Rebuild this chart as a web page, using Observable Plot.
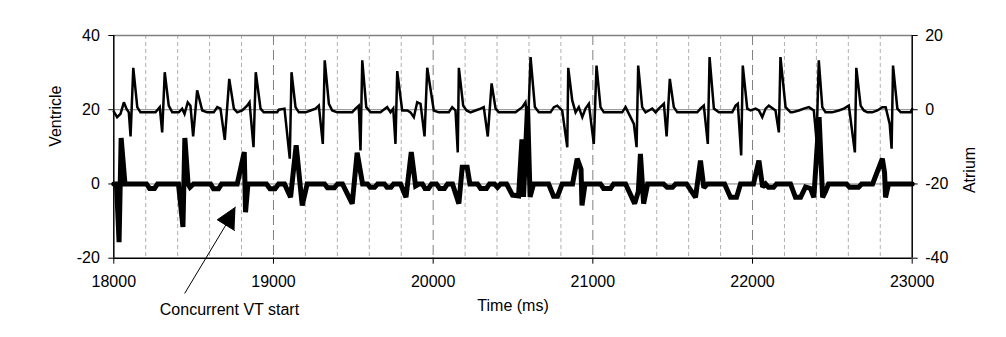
<!DOCTYPE html>
<html>
<head>
<meta charset="utf-8">
<script src="https://cdn.jsdelivr.net/npm/d3@7"></script>
<script src="https://cdn.jsdelivr.net/npm/@observablehq/plot@0.6"></script>
<style>
  html, body { margin: 0; padding: 0; background: #fff; }
  #chart svg { display: block; }
</style>
</head>
<body>
<div id="chart"></div>
<script>
// ---- Data ----
// Atrium (right axis, thin line): time (ms) and value
const atriumTime = [
  18000,18021,18042,18063,18080,18094,18105,18122,18147,18167,
  18261,18288,18303,18319,18344,18366,
  18407,18428,18443,18463,18480,18497,18522,18554,18585,
  18626,18648,18668,18695,18723,18752,18773,18804,18835,18850,
  18875,18889,18919,18939,
  19023,19033,19069,19102,19113,19138,19159,
  19201,19232,19263,19284,19309,19321,19347,19368,19399,
  19493,19514,19534,19545,19556,19581,19608,
  19670,19712,19733,19750,19764,19775,19806,19838,19858,
  19879,19900,19921,19946,19963,19988,20004,20035,
  20098,20119,20140,20154,20161,20188,20209,20234,
  20265,20297,20317,20342,20366,20391,20411,
  20516,20558,20578,20594,20610,20637,20662,
  20735,20756,20777,20808,20840,20846,20871,20892,
  20912,20934,20954,20975,21006,21023,21048,21069,
  21184,21205,21236,21257,21274,21284,21309,21330,21351,21372,
  21393,21413,21445,21462,21482,21507,21529,
  21654,21674,21695,21720,21731,21758,21789,
  21873,21894,21908,21929,21939,21967,21988,22019,22040,22061,22082,22102,22144,
  22165,22175,22207,22238,
  22249,22290,22321,22353,22384,22401,22415,22437,22457,
  22499,22540,22572,22603,22641,22650,22677,22697,22719,
  22750,22782,22813,22834,22859,22871,22880,22907,22928,22991,23000
];
const atriumValue = [
  -0.5,-2.0,-1.1,2.0,0.2,-0.7,-7.2,11.3,0.7,-0.7,
  -0.7,0.7,-6.1,10.1,1.1,-0.7,
  -0.7,0.3,-1.1,2.0,1.1,-7.2,5.2,-0.2,-0.7,
  -0.7,0.7,0.3,-8.1,8.3,0.3,-0.7,-0.2,1.1,2.0,
  -10.1,10.1,0.3,-0.7,
  -0.7,0.0,0.3,-13.2,10.1,0.7,-0.7,
  -0.7,-0.2,0.3,1.1,-9.2,13.3,1.6,-0.2,-0.7,
  -0.7,0.3,1.1,-11.0,13.3,0.7,-0.7,
  -0.7,0.7,-0.7,0.3,-9.2,10.4,-0.2,-0.2,-0.7,
  -2.0,2.0,1.6,-7.2,11.3,4.3,-0.2,-0.7,
  -0.7,0.7,-0.2,-11.5,11.3,1.1,-0.2,-0.7,
  -0.2,0.3,0.7,-7.2,7.1,0.3,-0.7,
  -0.7,0.7,2.0,-4.3,14.2,0.7,-0.7,
  -0.7,0.7,1.1,-0.2,-10.1,11.3,2.5,-0.7,
  0.7,-2.0,0.3,1.6,-9.2,11.9,0.7,-0.7,
  -0.7,0.7,-2.0,-3.8,-10.1,11.9,0.7,-0.7,-0.2,0.3,
  -0.7,0.3,1.6,-7.2,8.3,0.7,-0.7,
  -0.7,0.3,1.1,-9.2,14.2,0.3,-0.7,
  -0.7,1.1,1.6,-12.3,11.9,0.3,-0.2,0.3,-0.2,-2.0,0.3,1.1,-0.2,
  -6.1,14.2,0.7,-0.7,
  -0.7,-0.2,0.3,0.7,-0.2,-8.3,13.3,0.7,-0.7,
  -0.7,-0.2,0.3,1.1,-11.5,11.3,1.1,-0.2,-0.7,
  -0.7,-0.2,0.7,0.7,-3.8,-10.5,11.9,0.3,-0.7,-0.7,0.2
];

// Ventricle (left axis, thick line): time (ms) and value
const ventricleTime = [
  18000,18017,18033,18046,18070,
  18205,18224,18255,18274,
  18405,18433,18445,18465,18477,18499,
  18606,18624,18656,18675,
  18773,18817,18825,18840,
  18956,18978,19010,19032,
  19069,19107,19142,19180,19211,
  19320,19338,19382,19401,
  19432,19493,19524,19558,
  19589,19605,19633,19652,
  19695,19711,19736,19752,
  19796,19830,19863,19890,19910,
  19933,19949,19971,19990,
  20021,20040,20071,20090,
  20121,20161,20182,20213,20230,
  20278,20297,20334,20353,
  20384,20403,20422,
  20460,20497,20535,20556,20566,20591,20607,20629,
  20723,20754,20779,20808,
  20873,20902,20926,20932,20951,
  21048,21067,21111,21130,
  21205,21262,21285,21298,21318,21343,
  21443,21465,21499,21518,
  21587,21643,21674,21695,21718,
  21825,21862,21900,21925,
  22006,22040,22063,22082,
  22100,22132,22150,
  22238,22269,22301,22332,22363,22384,22417,22439,22457,22476,
  22589,22608,22664,22683,
  22752,22813,22827,22833,22852,
  23000
];
const ventricleValue = [
  0,0,-15.7,12.4,0,
  0,-1.2,-1.2,0,
  0,-11.6,12.4,0,-0.9,0,
  0,-1.3,-1.3,0,
  0,8.6,-7.6,0,
  0,-1.3,-1.3,0,
  0,-3.6,10.4,-5.8,0,
  0,-1.0,-1.0,0,
  0,-5.3,8.4,0,
  0,-0.9,-0.9,0,
  0,-0.9,-0.9,0,
  0,-3.6,8.6,-0.5,0,
  0,-1.2,-1.2,0,
  0,-1.2,-1.2,0,
  0,-5.3,4.5,4.5,0,
  0,-1.2,-1.2,0,
  0,-0.9,0,
  0,-3.0,-3.2,12,-3.5,21,-3.5,0,
  0,-3.3,-3.3,0,
  0,6.8,4,-5.8,0,
  0,-1.2,-1.2,0,
  0,-5.3,-2,8.1,-5.3,0,
  0,-0.9,-0.9,0,
  0,-3.6,6.3,-1.0,0,
  0,-3.6,-3.6,0,
  0,6.3,-0.8,0,
  -0.9,-0.9,0,
  0,-3.6,-3.6,-0.8,-1.2,-3.6,18,-3.6,-2,0,
  0,-0.9,-0.9,0,
  0,6.8,3,-3.6,0,
  0
];

// Axes
const xTicks = [18000, 19000, 20000, 21000, 22000, 23000];
const gridStep = 200;
const ventricleTicks = [-20, 0, 20, 40];
const atriumOffset = 20; // atrium axis (-40..20) is the ventricle axis (-20..40) shifted by 20

// Annotation ("Concurrent VT start")
const annotationLabel = {time: 18288, value: -34.0, text: "Concurrent VT start"};
const arrowShaft = [{time: 18445, value: -29.4}, {time: 18701, value: -11.1}];
const arrowHead = [{time: 18762, value: -6.25}, {time: 18648, value: -9.65}, {time: 18756, value: -12.53}];

// ---- Build tables ----
const atrium = atriumTime.map((t, i) => ({time: t, value: atriumValue[i]}));
const ventricle = ventricleTime.map((t, i) => ({time: t, value: ventricleValue[i]}));
const gridAll = d3.range(xTicks[0], xTicks[xTicks.length - 1] + 1, gridStep);
const minorGrid = gridAll.filter(t => !xTicks.includes(t));
const majorGrid = xTicks.slice(1, -1);

const font = "'Liberation Sans', Arial, Helvetica, sans-serif";

const chart = Plot.plot({
  width: 1006,
  height: 337,
  marginLeft: 113.3,
  marginRight: 94.3,
  marginTop: 35,
  marginBottom: 79.3,
  style: {fontFamily: font, fontSize: "16px", color: "#000", background: "#fff", overflow: "visible"},
  x: {domain: [18000, 23000]},
  y: {domain: [-20, 40]},
  marks: [
    // gridlines
    Plot.ruleX(minorGrid, {stroke: "#b0b0b0", strokeWidth: 1, strokeDasharray: "4,3"}),
    Plot.ruleX(majorGrid, {stroke: "#808080", strokeWidth: 1, strokeDasharray: "10,5"}),
    Plot.ruleY([0, 20], {stroke: "#808080", strokeWidth: 1}),
    Plot.ruleY([40], {stroke: "#808080", strokeWidth: 1.5}),
    // data
    Plot.line(atrium, {x: "time", y: d => d.value + atriumOffset, stroke: "black", strokeWidth: 2.5, strokeLinejoin: "miter", strokeMiterlimit: 3}),
    Plot.line(ventricle, {x: "time", y: "value", stroke: "black", strokeWidth: 5, strokeLinejoin: "miter", strokeMiterlimit: 2}),
    // frame
    Plot.ruleX([18000, 23000], {stroke: "black", strokeWidth: 1.5}),
    Plot.ruleY([-20], {stroke: "black", strokeWidth: 1.5}),
    // axes
    Plot.axisX({ticks: xTicks, tickSize: 6, tickPadding: 11, tickFormat: d => String(d), label: null, fontSize: 16}),
    Plot.axisY({ticks: ventricleTicks, tickSize: 5, tickPadding: 9, tickFormat: d => String(d), label: null, fontSize: 16}),
    Plot.axisY({anchor: "right", ticks: ventricleTicks, tickSize: 5, tickPadding: 8, tickFormat: d => String(d - atriumOffset), label: null, fontSize: 16}),
    // axis titles
    Plot.text(["Ventricle"], {frameAnchor: "left", dx: -57.7, rotate: -90, fontSize: 16, lineAnchor: "middle", fill: "black"}),
    Plot.text(["Atrium"], {frameAnchor: "right", dx: 57.3, rotate: -90, fontSize: 16, lineAnchor: "middle", fill: "black"}),
    Plot.text(["Time (ms)"], {frameAnchor: "bottom", dy: 48, fontSize: 16, lineAnchor: "middle", fill: "black"}),
    // annotation
    Plot.text([annotationLabel], {x: "time", y: "value", text: "text", textAnchor: "start", lineAnchor: "middle", fontSize: 16, fill: "black"}),
    Plot.line(arrowShaft, {x: "time", y: "value", stroke: "black", strokeWidth: 1}),
    Plot.line(arrowHead, {x: "time", y: "value", stroke: "black", strokeWidth: 1, fill: "black"})
  ]
});
document.getElementById("chart").appendChild(chart);
</script>
</body>
</html>
